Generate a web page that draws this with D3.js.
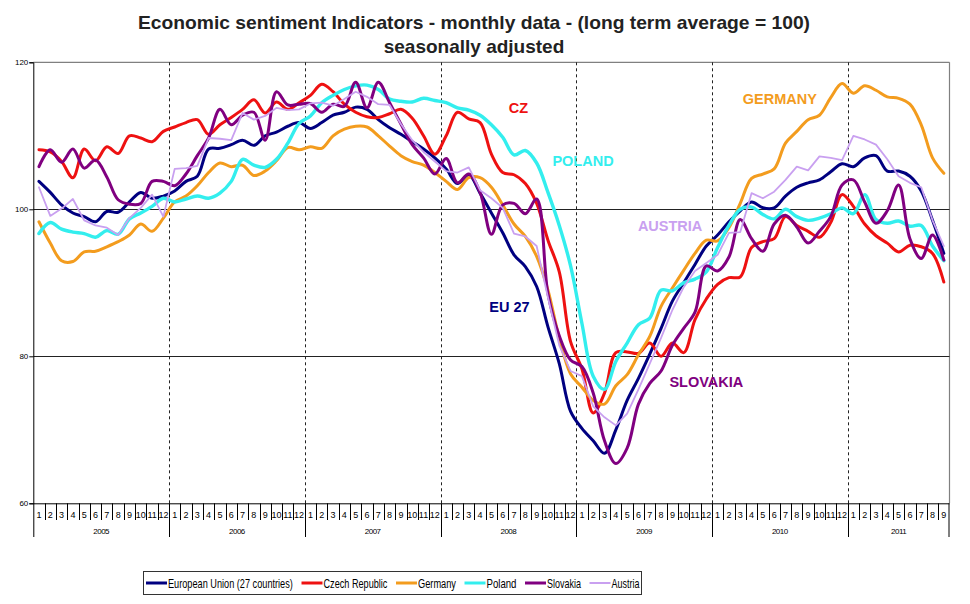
<!DOCTYPE html>
<html><head><meta charset="utf-8">
<script src="https://cdn.jsdelivr.net/npm/d3@7"></script>
<style>body{margin:0;background:#fff}svg{display:block}</style>
</head><body>
<svg id="c" width="970" height="604"></svg>
<script>
const years = ["2005","2006","2007","2008","2009","2010","2011"];
const monthsPerYear = [12,12,12,12,12,12,9];
const yTicks = [60,80,100,120];

const eu27 = [103.8,102.3,100.6,99.5,99.0,98.3,99.7,99.6,101.0,102.3,101.5,101.8,
102.5,103.8,104.5,108.2,108.3,108.8,109.4,108.7,110.0,110.5,111.3,111.8,
111.0,111.8,112.8,113.2,113.9,113.6,112.2,111.1,110.2,109.2,108.2,107.0,
105.5,103.5,104.7,102.2,99.5,96.8,93.8,92.2,89.5,84.0,79.0,72.5,
70.2,68.5,66.8,70.0,74.0,77.0,80.3,83.8,87.5,90.0,92.5,95.0,
96.5,98.3,99.8,101.0,100.2,100.2,101.8,103.0,103.6,104.0,105.1,106.2,
105.8,107.0,107.3,105.2,105.2,104.5,102.5,98.5,94.0];

const czech = [108.1,107.8,106.5,104.3,108.2,106.6,108.5,107.6,110.0,109.7,109.2,110.6,
111.2,111.8,112.2,110.2,111.5,112.5,113.6,114.9,113.1,114.6,113.6,114.5,
115.5,117.0,116.0,114.3,113.2,112.6,112.5,113.0,113.6,112.4,110.0,107.5,
110.0,113.2,112.3,111.8,107.5,105.0,104.7,103.5,100.8,95.8,91.5,82.0,
78.3,72.3,75.0,80.5,80.6,80.4,81.8,80.0,81.8,80.5,85.0,87.8,
89.8,90.7,90.8,94.8,95.6,96.0,99.0,97.8,97.0,96.2,98.2,102.0,
100.4,98.0,96.4,95.4,94.2,95.1,94.9,94.0,90.1];

const germany = [98.3,95.4,93.0,92.9,94.2,94.3,94.9,95.6,96.5,98.0,97.0,98.8,
101.0,101.8,103.2,105.0,106.3,105.8,106.0,104.6,105.2,106.6,108.4,108.1,
108.5,108.3,110.0,110.9,111.3,111.2,110.0,108.6,107.3,106.5,106.0,105.0,
103.8,102.7,104.3,104.3,103.0,100.6,98.0,96.3,93.6,89.0,82.5,77.6,
75.8,74.0,73.5,76.0,77.5,80.2,82.7,86.8,89.3,91.7,94.0,95.8,
95.7,97.5,100.8,104.2,104.8,105.5,109.0,110.6,112.2,112.8,115.2,117.1,
115.8,116.8,116.2,115.3,115.1,114.3,111.5,107.0,104.9];

const poland = [96.7,98.2,97.3,96.9,96.7,96.2,97.1,96.6,98.7,99.5,100.4,101.5,
101.0,101.4,101.8,101.5,102.2,103.8,106.8,106.0,105.7,106.8,109.0,111.7,
112.7,114.5,115.5,116.3,116.8,116.9,116.3,115.0,114.7,114.6,115.1,114.8,
114.5,113.8,113.5,112.8,111.5,109.8,107.4,108.0,106.3,102.3,97.8,92.3,
84.5,77.3,75.5,79.3,81.8,84.3,85.2,89.0,88.9,90.0,90.5,91.5,
94.8,97.8,100.0,100.3,99.3,98.7,100.0,99.0,98.5,98.8,99.4,100.2,
99.4,102.0,98.6,98.1,98.4,97.7,97.8,95.0,93.0];

const slovakia = [105.8,108.1,106.4,108.2,105.6,106.7,104.4,101.3,100.7,100.8,103.8,103.8,
103.2,104.8,107.3,109.7,113.6,111.5,112.8,113.2,109.4,116.0,114.2,114.3,
114.4,113.2,114.3,114.0,117.3,113.8,117.3,114.5,111.6,108.8,107.0,104.8,
106.9,103.6,104.8,102.3,96.6,100.6,100.8,99.4,101.4,88.5,82.8,79.5,
78.6,75.0,68.5,65.4,67.5,73.5,76.3,78.0,81.5,83.8,86.0,92.3,
91.6,93.5,98.6,96.0,94.3,98.0,99.2,97.6,95.4,97.0,99.0,103.3,
104.0,101.0,98.1,99.8,103.3,96.0,93.3,96.5,93.1];

const austria = [103.0,99.1,100.1,101.4,98.5,97.8,97.5,96.5,98.8,100.2,102.0,99.0,
105.5,105.6,105.9,109.7,109.6,109.4,113.1,112.2,112.7,113.8,113.5,113.6,
114.4,114.5,114.1,115.0,116.0,115.3,114.3,114.2,111.6,109.4,107.8,106.5,
105.2,105.0,105.7,102.6,101.5,100.2,96.7,96.3,95.0,88.0,81.5,78.0,
77.3,73.2,71.7,70.6,72.2,75.5,79.0,82.5,86.3,89.4,91.6,92.7,
93.8,96.8,96.9,102.2,101.5,102.4,104.0,105.8,105.3,107.2,107.0,106.7,
110.0,109.5,108.8,106.8,104.5,103.6,103.0,98.5,95.0];

const seriesNames = ["European Union (27 countries)","Czech Republic","Germany","Poland","Slovakia","Austria"];
const seriesColors = ["#000080","#ee1111","#f39c1e","#33eeee","#800080","#c9a0f0"];
const seriesValues = [eu27, czech, germany, poland, slovakia, austria];
const seriesLabels = ["EU 27","CZ","GERMANY","POLAND","SLOVAKIA","AUSTRIA"];
// label anchor: [month index, value]
const seriesLabelAt = [[41.6,86.0],[42.4,113.1],[65.5,114.3],[48.1,105.9],[59.0,75.8],[55.8,97.0]];
const legendTextWidths = [125,64,38,30,34,28];

// categories
const categories = [];
years.forEach((y,yi)=>{for(let m=1;m<=monthsPerYear[yi];m++)categories.push({year:y,month:m});});

const svg = d3.select("#c");
const L=33.3, R=949.5, T=62.3, B=503.3;
const x = d3.scaleBand().domain(d3.range(categories.length)).range([L,R]).padding(0);
const y = d3.scaleLinear().domain([60,120]).range([B,T]);
const cx = i => x(0)+ (i+0.5)*x.bandwidth();
const FONT = "Arial, Liberation Sans, sans-serif";

// title
svg.append("text").attr("x",474).attr("y",29).attr("text-anchor","middle")
 .attr("font-family",FONT).attr("font-weight","bold").attr("font-size",19).attr("fill","#222")
 .attr("textLength",672).attr("lengthAdjust","spacingAndGlyphs")
 .text("Economic sentiment Indicators - monthly data - (long term average = 100)");
svg.append("text").attr("x",474).attr("y",53).attr("text-anchor","middle")
 .attr("font-family",FONT).attr("font-weight","bold").attr("font-size",19).attr("fill","#222")
 .text("seasonally adjusted");

// plot frame
svg.append("line").attr("x1",L).attr("x2",R).attr("y1",T).attr("y2",T).attr("stroke","#808080").attr("stroke-width",1.2);
svg.append("line").attr("x1",R).attr("x2",R).attr("y1",T).attr("y2",B).attr("stroke","#808080").attr("stroke-width",1.2);

// gridlines
[80,100].forEach(v=>{
 svg.append("line").attr("x1",L).attr("x2",R).attr("y1",Math.round(y(v))+0.5).attr("y2",Math.round(y(v))+0.5).attr("stroke","#222").attr("stroke-width",1);
});

// year dashed separators
years.forEach((yr,yi)=>{
 if(yi===0) return;
 const idx = categories.findIndex(c=>c.year===yr);
 const xx = Math.round(x(idx))+0.5;
 svg.append("line").attr("x1",xx).attr("x2",xx).attr("y1",T).attr("y2",B).attr("stroke","#222").attr("stroke-width",1).attr("stroke-dasharray","3,3");
});

// y axis
const yAxis = d3.axisLeft(y).tickValues(yTicks).tickSize(4).tickFormat(d3.format("d"));
const ya = svg.append("g").attr("transform",`translate(${L},0)`).call(yAxis);
ya.select(".domain").attr("stroke","#000");
ya.selectAll("line").attr("stroke","#000");
ya.selectAll("text").attr("font-family",FONT).attr("font-size",8).attr("fill","#000").attr("x",-5);
svg.append("line").attr("x1",L+0.5).attr("x2",L+0.5).attr("y1",B).attr("y2",537).attr("stroke","#000");

// x axis (months)
svg.append("line").attr("x1",L).attr("x2",R).attr("y1",B+0.5).attr("y2",B+0.5).attr("stroke","#000");
const xa = svg.append("g").attr("transform",`translate(0,${B})`)
 .call(d3.axisBottom(x).tickSize(0).tickFormat(i=>categories[i].month));
xa.select(".domain").remove();
xa.selectAll("text").attr("font-family",FONT).attr("font-size",9).attr("fill","#000").attr("dy",0).attr("y",14.5);
categories.forEach((c,i)=>{
 if(i===0) return;
 const xx = Math.round(x(i))+0.5;
 const isYear = c.month===1;
 svg.append("line").attr("x1",xx).attr("x2",xx).attr("y1",B).attr("y2",isYear?537:520).attr("stroke","#000");
});
svg.append("line").attr("x1",R-0.5).attr("x2",R-0.5).attr("y1",B).attr("y2",537).attr("stroke","#000");
years.forEach((yr,yi)=>{
 const idxs = categories.map((c,i)=>c.year===yr?i:-1).filter(i=>i>=0);
 const x0 = x(idxs[0]), x1 = x(idxs[idxs.length-1])+x.bandwidth();
 svg.append("text").attr("x",(x0+x1)/2).attr("y",534).attr("text-anchor","middle")
  .attr("font-family",FONT).attr("font-size",8).attr("letter-spacing",-0.5).attr("fill","#000").text(yr);
});

// lines
const smooth = d3.line().x((d,i)=>cx(i)).y(d=>y(d)).curve(d3.curveCatmullRom.alpha(0.5));
const straight = d3.line().x((d,i)=>cx(i)).y(d=>y(d)).curve(d3.curveLinear);
const widths = [3,3,3,3.4,3,1.8];
seriesValues.forEach((vals,si)=>{
 svg.append("path").datum(vals).attr("d", si===5?straight:smooth)
  .attr("fill","none").attr("stroke",seriesColors[si]).attr("stroke-width",widths[si])
  .attr("stroke-linejoin","round").attr("stroke-linecap","round");
});

// inline labels
seriesLabels.forEach((lab,si)=>{
 const p = seriesLabelAt[si];
 svg.append("text").attr("x",cx(p[0])).attr("y",y(p[1])).attr("text-anchor","middle")
  .attr("font-family",FONT).attr("font-weight","bold").attr("font-size",14.5)
  .attr("fill",seriesColors[si]).text(lab);
});

// legend
const lg = svg.append("g");
lg.append("rect").attr("x",143.5).attr("y",571.5).attr("width",498).attr("height",23).attr("fill","#fff").attr("stroke","#333");
let lx = 146;
seriesNames.forEach((n,si)=>{
 lg.append("line").attr("x1",lx).attr("x2",lx+21).attr("y1",583).attr("y2",583).attr("stroke",seriesColors[si]).attr("stroke-width",si===5?2:3);
 const g = lg.append("g");
 const t = g.append("text").attr("x",0).attr("y",0).attr("font-family",FONT).attr("font-size",12.5).attr("fill","#000").text(n);
 const nat = t.node().getComputedTextLength();
 g.attr("transform",`translate(${lx+22},587.5) scale(${legendTextWidths[si]/nat},1)`);
 lx += 22 + legendTextWidths[si] + 8.5;
});
</script>
</body></html>
